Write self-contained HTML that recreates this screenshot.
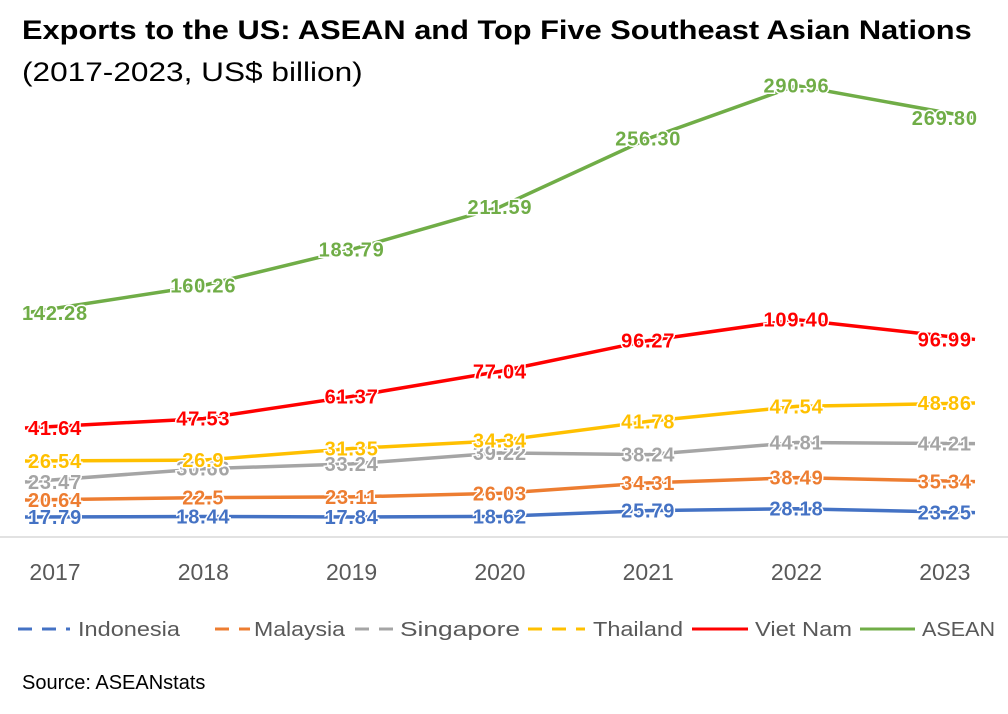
<!DOCTYPE html>
<html><head><meta charset="utf-8"><style>
body{margin:0;background:#fff;width:1008px;height:714px;overflow:hidden;font-family:"Liberation Sans",sans-serif}
.t{position:absolute;left:22px;white-space:nowrap;color:#000;transform-origin:0 0}
</style></head><body>
<div class="t" style="top:15px;font-size:27px;font-weight:bold;transform:scaleX(1.14)">Exports to the US: ASEAN and Top Five Southeast Asian Nations</div>
<div class="t" style="top:57px;font-size:27px;transform:scaleX(1.17)">(2017-2023, US$ billion)</div>
<div class="t" style="top:672px;font-size:20px">Source: ASEANstats</div>
<svg id="c" width="1008" height="714" style="position:absolute;left:0;top:0"></svg>
<script>
const years=["2017","2018","2019","2020","2021","2022","2023"];
const indonesia=[17.79,18.44,17.84,18.62,25.79,28.18,23.25];
const malaysia=[20.64,22.5,23.11,26.03,34.31,38.49,35.34];
const singapore=[23.47,30.66,33.24,39.22,38.24,44.81,44.21];
const thailand=[26.54,26.9,31.35,34.34,41.78,47.54,48.86];
const vietnam=[41.64,47.53,61.37,77.04,96.27,109.4,96.99];
const asean=[142.28,160.26,183.79,211.59,256.3,290.96,269.8];
const series=[
 {name:"Indonesia",vals:indonesia,txt:["17.79","18.44","17.84","18.62","25.79","28.18","23.25"],color:"#4472C4",base:517,v0:17.79,k:0.8},
 {name:"Malaysia",vals:malaysia,txt:["20.64","22.5","23.11","26.03","34.31","38.49","35.34"],color:"#ED7D31",base:500,v0:20.64,k:1.25},
 {name:"Singapore",vals:singapore,txt:["23.47","30.66","33.24","39.22","38.24","44.81","44.21"],color:"#A5A5A5",base:482,v0:23.47,k:1.85},
 {name:"Thailand",vals:thailand,txt:["26.54","26.9","31.35","34.34","41.78","47.54","48.86"],color:"#FFC000",base:461,v0:26.54,k:2.6},
 {name:"Viet Nam",vals:vietnam,txt:["41.64","47.53","61.37","77.04","96.27","109.40","96.99"],color:"#FF0000",base:428,v0:41.64,k:1.6},
 {name:"ASEAN",vals:asean,txt:["142.28","160.26","183.79","211.59","256.30","290.96","269.80"],color:"#70AD47",base:313,v0:142.28,k:1.53}
];
const svg=document.getElementById('c');const NS="http://www.w3.org/2000/svg";
function x(i){return 55+i*148.3;}
function y(s,v){return s.base-s.k*(v-s.v0);}
function mk(t,a){const e=document.createElementNS(NS,t);for(const k in a)e.setAttribute(k,a[k]);svg.appendChild(e);return e;}
const ax=mk('line',{x1:0,x2:1008,y1:537,y2:537,stroke:'#d9d9d9','stroke-width':1.5});


years.forEach((yr,i)=>{const t=mk('text',{x:x(i),y:580,'text-anchor':'middle','font-size':23,fill:'#595959'});t.textContent=yr;

});
series.forEach(s=>{
 const pts=s.vals.map((v,i)=>[i===0?25:(i===6?975:x(i)),y(s,v)]);
 const p=mk('polyline',{points:pts.map(p=>p.join(',')).join(' '),fill:'none',stroke:s.color,'stroke-width':3.5});
 
 
});
series.forEach(s=>{
 s.vals.forEach((v,i)=>{const t=mk('text',{x:x(i),y:y(s,v)+7,'text-anchor':'middle','font-size':20,'font-weight':'bold','letter-spacing':0.8,fill:s.color,stroke:'#fff','stroke-width':3,'paint-order':'stroke'});t.textContent=s.txt[i];
 
 });
});
const sw=[[18,70],[215,250],[355,395],[528,585],[692,748],[860,915]];
const tx=[78,254,400,593,755,922];
const tw=[102,91,120,90,97,73];
series.forEach((s,i)=>{
 const l=mk('line',{x1:sw[i][0],x2:sw[i][1],y1:629,y2:629,stroke:s.color,'stroke-width':3,'stroke-dasharray':i<4?'14,10':'none'});
 
 
 const t=mk('text',{x:tx[i],y:636,'font-size':20,fill:'#595959',textLength:tw[i],lengthAdjust:'spacingAndGlyphs'});t.textContent=s.name;
 
 
});
</script>
</body></html>
